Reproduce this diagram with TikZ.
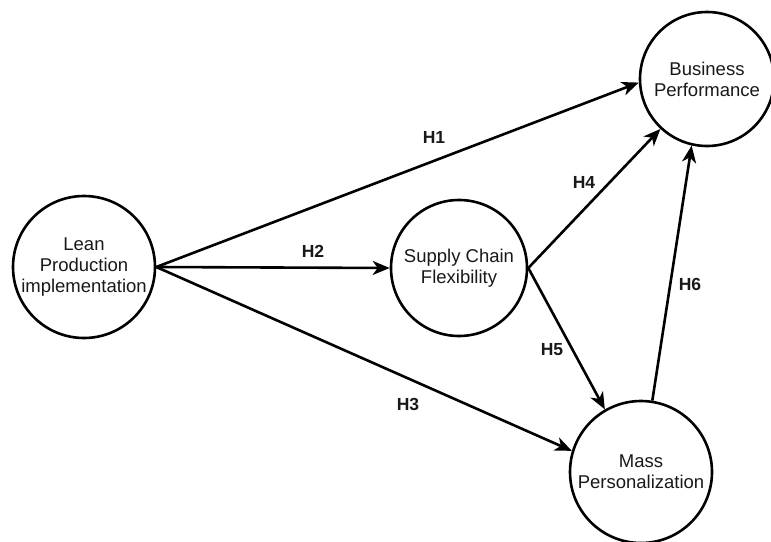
\documentclass[tikz,border=0pt]{standalone}
\usepackage{fontspec}
\setmainfont{Liberation Sans}
\usetikzlibrary{arrows.meta}
\begin{document}
\begin{tikzpicture}[x=1pt,y=-1pt,
  construct/.style={circle,draw=black,line width=2.6pt,fill=white,inner sep=0pt,
    align=center,font=\fontsize{18.5}{21}\selectfont,text=black!90},
  path/.style={line width=2.6pt,-{Stealth[length=17pt,width=14pt,inset=5pt]}},
  hyp/.style={font=\fontsize{17.5}{20}\selectfont\bfseries,text=black!90,inner sep=0pt}]
\useasboundingbox (0,0) rectangle (771,541);

% constructs
\node[construct,minimum size=142pt] (lean) at (84,267) {Lean\\Production\\implementation};
\node[construct,minimum size=136pt] (scf)  at (459,268) {Supply Chain\\Flexibility};
\node[construct,minimum size=134pt] (bp)   at (707,79) {Business\\Performance};
\node[construct,minimum size=142pt] (mp)   at (641,472) {Mass\\Personalization};

% hypothesised paths
\draw[path] (lean.east) -- (bp.183);
\draw[path] (lean.east) -- (scf.west);
\draw[path] (lean.east) -- (mp.163);
\draw[path] (scf.east) -- (bp.227);
\draw[path] (scf.east) -- (mp.120);
\draw[path] (mp.81) -- (bp.257);

% path labels
\node[hyp] (h1) at (434,137) {H1};
\node[hyp] (h2) at (313,251) {H2};
\node[hyp] (h3) at (408,404) {H3};
\node[hyp] (h4) at (584,182) {H4};
\node[hyp] (h5) at (552,350) {H5};
\node[hyp] (h6) at (690,284) {H6};
\end{tikzpicture}
\end{document}
